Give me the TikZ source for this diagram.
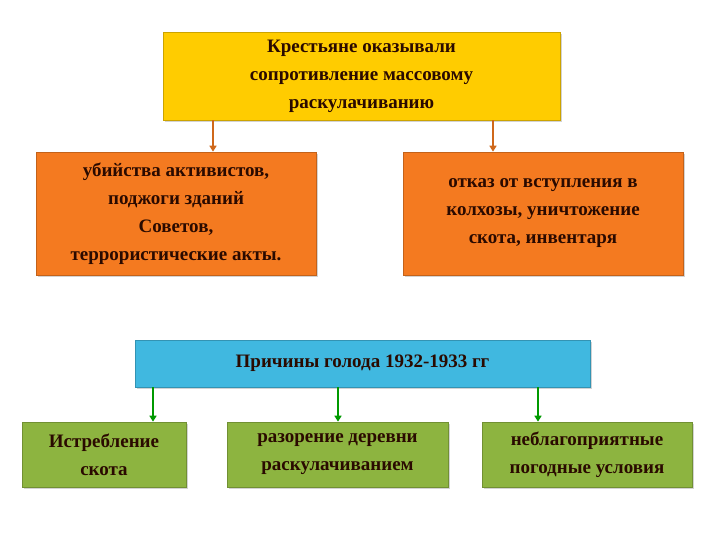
\documentclass[tikz,border=0pt]{standalone}
\usepackage{fontspec}
\setmainfont{Liberation Serif}
\usetikzlibrary{arrows.meta,shadows}
\definecolor{yel}{HTML}{FFCC00}
\definecolor{org}{HTML}{F47A20}
\definecolor{blu}{HTML}{40B8E0}
\definecolor{grn}{HTML}{8DB440}
\definecolor{txt}{HTML}{2A0A00}
\tikzset{
 boxy/.style={draw=#1!80!black, line width=0.6pt, fill=#1, align=center, font=\bfseries\fontsize{19}{28}\selectfont, text=txt, drop shadow={shadow xshift=2pt, shadow yshift=-2pt, opacity=0.35}, inner sep=0pt},
 arr/.style={line width=2pt, draw=#1, -{Triangle[length=6pt,width=7pt]}}
}
\begin{document}
\begin{tikzpicture}[x=1pt,y=-1pt]
\useasboundingbox (0,0) rectangle (720,540);
\node[boxy=yel, minimum width=397pt, minimum height=88pt] (top) at (361.5,76) {Крестьяне оказывали\\сопротивление массовому\\раскулачиванию};
\node[boxy=org, minimum width=280pt, minimum height=123pt] (l) at (176,213.5) {убийства активистов,\\поджоги зданий\\Советов,\\террористические акты.};
\node[boxy=org, minimum width=280pt, minimum height=123pt] (r) at (543,213.5) {отказ от вступления в\\колхозы, уничтожение\\скота, инвентаря};
\node[boxy=blu, minimum width=455pt, minimum height=47pt] (m) at (362.5,363.5) {Причины голода 1932-1933 гг};
\node[boxy=grn, minimum width=164pt, minimum height=65pt] (g1) at (104,454.5) {Истребление\\скота};
\node[boxy=grn, minimum width=221pt, minimum height=65pt] (g2) at (337.5,454.5) {разорение деревни\\раскулачиванием};
\node[boxy=grn, minimum width=210pt, minimum height=65pt] (g3) at (587,454.5) {неблагоприятные\\погодные условия};
\draw[arr=org!85!black] (top.south -| 213,0) -- (l.north -| 213,0);
\draw[arr=org!85!black] (top.south -| 493,0) -- (r.north -| 493,0);
\draw[arr=green!60!black] (m.south -| 153,0) -- (g1.north -| 153,0);
\draw[arr=green!60!black] (m.south -| 338,0) -- (g2.north -| 338,0);
\draw[arr=green!60!black] (m.south -| 538,0) -- (g3.north -| 538,0);
\end{tikzpicture}
\end{document}
